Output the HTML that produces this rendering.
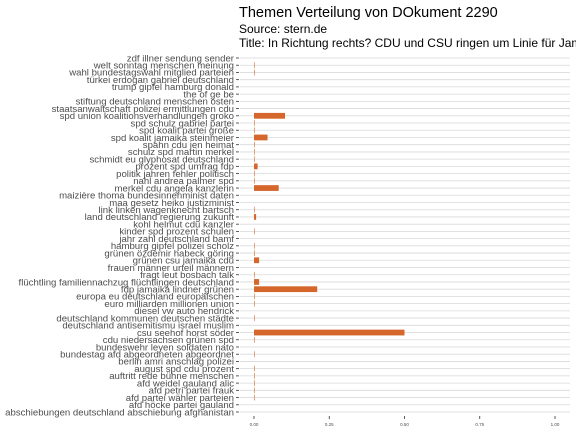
<!DOCTYPE html>
<html><head><meta charset="utf-8"><style>
body{margin:0;background:#fff;font-family:"Liberation Sans",sans-serif}
svg text{font-family:"Liberation Sans",sans-serif}
</style></head><body>
<svg width="576" height="432" xmlns="http://www.w3.org/2000/svg">
<text x="239" y="17" font-size="14.5" fill="#000">Themen Verteilung von DOkument 2290</text>
<text x="239" y="33" font-size="12" fill="#000">Source: stern.de</text>
<text x="239" y="47" font-size="12" fill="#000">Title: In Richtung rechts? CDU und CSU ringen um Linie für Jamaika</text>
<g id="plot"></g>
</svg>
<script>
const categories=["zdf illner sendung sender","welt sonntag menschen meinung","wahl bundestagswahl mitglied parteien","türkei erdogan gabriel deutschland","trump gipfel hamburg donald","the of ge be","stiftung deutschland menschen osten","staatsanwaltschaft polizei ermittlungen cdu","spd union koalitionsverhandlungen groko","spd schulz gabriel partei","spd koalit partei große","spd koalit jamaika steinmeier","spahn cdu jen heimat","schulz spd martin merkel","schmidt eu glyphosat deutschland","prozent spd umfrag fdp","politik jahren fehler politisch","nahl andrea palmer spd","merkel cdu angela kanzlerin","maizière thoma bundesinnenminist daten","maa gesetz heiko justizminist","link linken wagenknecht bartsch","land deutschland regierung zukunft","kohl helmut cdu kanzler","kinder spd prozent schulen","jahr zahl deutschland bamf","hamburg gipfel polizei scholz","grünen özdemir habeck göring","grünen csu jamaika cdu","frauen männer urteil männern","fragt leut bosbach talk","flüchtling familiennachzug flüchtlingen deutschland","fdp jamaika lindner grünen","europa eu deutschland europäischen","euro milliarden millionen union","diesel vw auto hendrick","deutschland kommunen deutschen städte","deutschland antisemitismu israel muslim","csu seehof horst söder","cdu niedersachsen grünen spd","bundeswehr leyen soldaten nato","bundestag afd abgeordneten abgeordnet","berlin amri anschlag polizei","august spd cdu prozent","auftritt rede bühne menschen","afd weidel gauland alic","afd petri partei frauk","afd partei wähler parteien","afd höcke partei gauland","abschiebungen deutschland abschiebung afghanistan"];
const values=[0,0.002,0.002,0,0,0,0,0,0.103,0.002,0.002,0.045,0.002,0.002,0.001,0.012,0.002,0.002,0.082,0,0,0.002,0.007,0,0.002,0,0.002,0.002,0.017,0,0.002,0.017,0.21,0.002,0.002,0,0.002,0,0.5,0.002,0,0.002,0,0.002,0.002,0.002,0.002,0.002,0,0];
const ticks=[0,0.25,0.5,0.75,1];
const tickLabels=["0.00","0.25","0.50","0.75","1.00"];
const NS="http://www.w3.org/2000/svg";
const g=document.getElementById('plot');
const x0=254,x1=555,yTop=58,yBot=412,panelL=240,panelR=570;
const xs=v=>x0+v*(x1-x0);
const step=(yBot-yTop)/(categories.length-1);
const ys=i=>yTop+i*step;
function mk(t,a){const e=document.createElementNS(NS,t);for(const k in a)e.setAttribute(k,a[k]);g.appendChild(e);return e;}
categories.forEach((c,i)=>{
  const y=ys(i);
  const gl=mk('line',{x1:panelL,x2:panelR,y1:y,y2:y,stroke:'#d9d9d9','stroke-width':0.8});
  
  
  const tk=mk('line',{x1:236,x2:239,y1:y,y2:y,stroke:'#333','stroke-width':0.8});
  
  
  const t=mk('text',{x:234,y:y+3.3,'font-size':9.6,'text-anchor':'end',fill:'#4d4d4d'});
  t.textContent=c;
  
  
});
categories.forEach((c,i)=>{
  if(values[i]<=0)return;
  const h=step*0.8;
  const r=mk('rect',{x:x0,y:ys(i)-h/2,width:Math.max(0.6,xs(values[i])-x0),height:h,fill:'#d5672c'});
  
  
});
ticks.forEach((v,i)=>{
  const x=xs(v);
  const tk=mk('line',{x1:x,x2:x,y1:416,y2:419,stroke:'#333','stroke-width':0.8});
  
  
  const t=mk('text',{x:x,y:426,'font-size':4.5,'text-anchor':'middle',fill:'#4d4d4d'});
  t.textContent=tickLabels[i];
  
  
});
</script>
</body></html>
